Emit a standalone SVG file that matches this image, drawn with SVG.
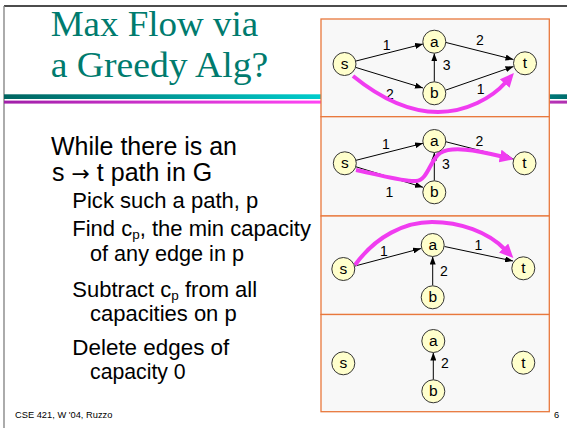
<svg xmlns="http://www.w3.org/2000/svg" width="567" height="428" viewBox="0 0 567 428">
<defs>
<linearGradient id="gTeal" x1="4" y1="0" x2="567" y2="0" gradientUnits="userSpaceOnUse">
<stop offset="0" stop-color="#006460"/><stop offset="0.56" stop-color="#00CCCC"/><stop offset="0.8" stop-color="#00AAAA"/><stop offset="1" stop-color="#006E6E"/>
</linearGradient>
<linearGradient id="gMag" x1="4" y1="0" x2="567" y2="0" gradientUnits="userSpaceOnUse">
<stop offset="0" stop-color="#A020A8"/><stop offset="0.56" stop-color="#FF44F4"/><stop offset="0.8" stop-color="#E040E0"/><stop offset="1" stop-color="#B030B0"/>
</linearGradient>
<marker id="ah" markerUnits="userSpaceOnUse" markerWidth="8" markerHeight="6" refX="8" refY="3" orient="auto">
<path d="M0,0 L8,3 L0,6 z" fill="#000"/>
</marker>
<marker id="mh" markerUnits="userSpaceOnUse" markerWidth="14" markerHeight="13" refX="2" refY="6.5" orient="auto">
<path d="M0,0 L14,6.5 L0,13 z" fill="#F03CF0"/>
</marker>
</defs>
<style>
.title{font-family:"Liberation Serif","Times New Roman",serif;font-size:35px;fill:#007B6E}
.t1{font-family:"Liberation Sans",Arial,sans-serif;font-size:25px;fill:#000}
.t2{font-family:"Liberation Sans",Arial,sans-serif;font-size:22px;fill:#000}
.foot{font-family:"Liberation Sans",Arial,sans-serif;font-size:9.3px;fill:#000}
.panel{fill:#F8F8F8;stroke:#E8783C;stroke-width:1.3}
.node circle{fill:#FFFFCC;stroke:#333;stroke-width:1}
.node text{font-family:"Liberation Sans",Arial,sans-serif;font-size:15.5px;fill:#000;text-anchor:middle}
.edge{stroke:#000;stroke-width:1;fill:none;marker-end:url(#ah)}
.lbl{font-family:"Liberation Sans",Arial,sans-serif;font-size:14px;fill:#000;text-anchor:middle}
.flow{stroke:#F03CF0;stroke-width:4;fill:none;marker-end:url(#mh)}
</style>
<rect width="567" height="428" fill="#fff"/>
<!-- slide frame -->
<line x1="4" y1="6" x2="567" y2="6" stroke="#111" stroke-width="1.3"/>
<line x1="4" y1="6" x2="4" y2="428" stroke="#888" stroke-width="1.4"/>
<!-- title -->
<text class="title" x="50.7" y="36" textLength="207.6" lengthAdjust="spacingAndGlyphs">Max Flow via</text>
<text class="title" x="50.7" y="77.3" textLength="217.6" lengthAdjust="spacingAndGlyphs">a Greedy Alg?</text>
<rect x="4" y="94.3" width="563" height="4.7" fill="url(#gTeal)"/>
<rect x="4" y="100.6" width="563" height="3" fill="url(#gMag)"/>
<!-- body -->
<text class="t1" x="51" y="155" textLength="186" lengthAdjust="spacingAndGlyphs">While there is an</text>
<text class="t1" x="52" y="181">s <tspan font-family="DejaVu Sans, sans-serif" font-size="22">→</tspan> t path in G</text>
<text class="t2" x="72.3" y="208" textLength="186" lengthAdjust="spacingAndGlyphs">Pick such a path, p</text>
<text class="t2" x="72.3" y="236">Find c<tspan dy="3" font-size="13.5">p</tspan><tspan dy="-3">, the min capacity</tspan></text>
<text class="t2" x="90" y="260.5" textLength="154" lengthAdjust="spacingAndGlyphs">of any edge in p</text>
<text class="t2" x="72.3" y="297">Subtract c<tspan dy="3" font-size="13.5">p</tspan><tspan dy="-3"> from all</tspan></text>
<text class="t2" x="90" y="320.5" textLength="146.7" lengthAdjust="spacingAndGlyphs">capacities on p</text>
<text class="t2" x="72.3" y="355" textLength="157" lengthAdjust="spacingAndGlyphs">Delete edges of</text>
<text class="t2" x="90" y="378.5" textLength="95.7" lengthAdjust="spacingAndGlyphs">capacity 0</text>
<text class="foot" x="15" y="418.3">CSE 421, W '04, Ruzzo</text>
<text class="foot" x="556.7" y="418.3" text-anchor="middle">6</text>
<!-- panels -->
<rect class="panel" x="321" y="19" width="228.3" height="97.7"/>
<rect class="panel" x="321" y="116.7" width="228.3" height="99.3"/>
<rect class="panel" x="321" y="216" width="228.3" height="98.5"/>
<rect class="panel" x="321" y="314.5" width="228.3" height="97.2"/>
<!-- connectors -->
<g id="connectors">
<path class="edge" d="M356,61 L423,44"/>
<path class="edge" d="M356,67.5 L423,88"/>
<path class="edge" d="M446,42.5 L513.5,59.5"/>
<path class="edge" d="M446,90 L513.5,66.5"/>
<path class="edge" d="M434.3,81.8 L434.3,53.2"/>
<text class="lbl" x="386.7" y="50">1</text>
<text class="lbl" x="480" y="45">2</text>
<text class="lbl" x="446.7" y="70">3</text>
<text class="lbl" x="390" y="99">2</text>
<text class="lbl" x="480.7" y="94.3">1</text>
<path class="flow" d="M353,76 C385,102 412,112 438,112 C466,112 492,98 506,82"/>

<path class="edge" d="M356,160.3 L423,143.3"/>
<path class="edge" d="M356,166.8 L423,187.3"/>
<path class="edge" d="M446,141.8 L513.5,159"/>
<path class="edge" d="M434.3,180.8 L434.3,152.5"/>
<text class="lbl" x="386" y="149.3">1</text>
<text class="lbl" x="479.3" y="145.7">2</text>
<text class="lbl" x="446" y="169">3</text>
<text class="lbl" x="389.3" y="196.7">1</text>
<path class="flow" d="M356,170 C385,176 405,182 416,181 C428,180 430,160 440,153 C452,146 475,150 502,156.5"/>

<path class="edge" d="M355,266 L421,248.5"/>
<path class="edge" d="M444.5,246.5 L513,261"/>
<path class="edge" d="M432.7,285.5 L432.7,256.5"/>
<text class="lbl" x="384" y="255.7">1</text>
<text class="lbl" x="478.3" y="250">1</text>
<text class="lbl" x="444" y="275.7">2</text>
<path class="flow" d="M355,265 C376,236 405,222 432,222 C460,222 488,232 505,249.5"/>

<path class="edge" d="M433.3,379.8 L433.3,352.5"/>
<text class="lbl" x="445" y="368.3">2</text>
</g>
<!-- nodes -->
<g id="s1" class="node"><circle cx="344.5" cy="64" r="11.5"/><text x="344.5" y="69">s</text></g>
<g id="a1" class="node"><circle cx="434.3" cy="41.7" r="11.5"/><text x="434.3" y="46.7">a</text></g>
<g id="b1" class="node"><circle cx="434.3" cy="93.3" r="11.5"/><text x="434.3" y="98.3">b</text></g>
<g id="t1" class="node"><circle cx="525" cy="63.3" r="11.5"/><text x="525" y="68.3">t</text></g>

<g id="s2" class="node"><circle cx="344.8" cy="163.3" r="11.5"/><text x="344.8" y="168.3">s</text></g>
<g id="a2" class="node"><circle cx="434.3" cy="141" r="11.5"/><text x="434.3" y="146">a</text></g>
<g id="b2" class="node"><circle cx="434.3" cy="192.3" r="11.5"/><text x="434.3" y="197.3">b</text></g>
<g id="t2" class="node"><circle cx="524.5" cy="163.3" r="11.5"/><text x="524.5" y="168.3">t</text></g>

<g id="s3" class="node"><circle cx="343.3" cy="269" r="11.5"/><text x="343.3" y="274">s</text></g>
<g id="a3" class="node"><circle cx="432.7" cy="245" r="11.5"/><text x="432.7" y="250">a</text></g>
<g id="b3" class="node"><circle cx="432.7" cy="297.3" r="11.5"/><text x="432.7" y="302.3">b</text></g>
<g id="t3" class="node"><circle cx="523.3" cy="268.3" r="11.5"/><text x="523.3" y="273.3">t</text></g>

<g id="s4" class="node"><circle cx="343.3" cy="363.3" r="11.5"/><text x="343.3" y="368.3">s</text></g>
<g id="a4" class="node"><circle cx="433.3" cy="341" r="11.5"/><text x="433.3" y="346">a</text></g>
<g id="b4" class="node"><circle cx="433.3" cy="391.3" r="11.5"/><text x="433.3" y="396.3">b</text></g>
<g id="t4" class="node"><circle cx="523.3" cy="362.7" r="11.5"/><text x="523.3" y="367.7">t</text></g>
</svg>
